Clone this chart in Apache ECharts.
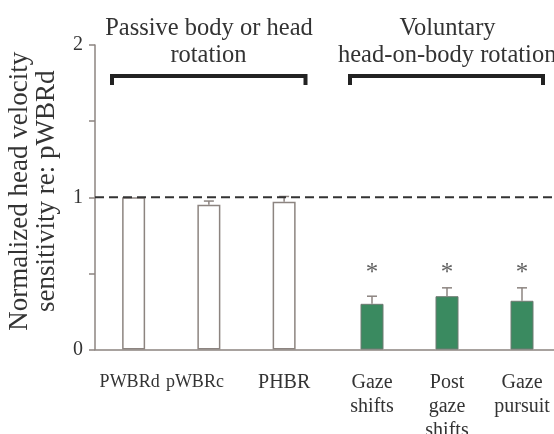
<!DOCTYPE html>
<html>
<head>
<meta charset="utf-8">
<script src="https://cdn.jsdelivr.net/npm/echarts@6/dist/echarts.min.js"></script>
<style>
  html, body { margin: 0; padding: 0; background: #fff; }
  #chart { width: 554px; height: 434px; }
</style>
</head>
<body>
<div id="chart"></div>
<script>
// Passive rotation conditions (open bars)
const passiveCats = ['PWBRd', 'pWBRc', 'PHBR'];
const passiveVals = [1.0, 0.95, 0.97];
const passiveErr = [0, 0.025, 0.035];

// Voluntary head-on-body rotation conditions (filled bars)
const voluntaryCats = ['Gaze\nshifts', 'Post\ngaze\nshifts', 'Gaze\npursuit'];
const voluntaryVals = [0.30, 0.35, 0.32];
const voluntaryErr = [0.05, 0.055, 0.085];
const voluntarySig = ['*', '*', '*'];
const sigLevel = 0.535;

// Axis
const yTicks = [0, 1, 2];
const yMin = 0, yMax = 2;
const refLevel = 1;

const SERIF = '"Liberation Serif", "Times New Roman", serif';
const TEXT = '#333';
const AXIS = '#8c8480';
const GREEN = '#3a8a60';

// the two leftmost passive labels are set tighter and sit a little left of their bars
const passiveLabelStyle = [
  { padding: [0, 8, 0, 0], fontSize: 18 },
  { padding: [0, 28, 0, 0], fontSize: 18 },
  null
];

const chart = echarts.init(document.getElementById('chart'), null, { renderer: 'canvas' });

function hiddenY(gridIndex) {
  return {
    type: 'value', gridIndex, min: yMin, max: yMax, show: false,
    splitLine: { show: false }
  };
}

function catX(gridIndex, cats, styles) {
  return {
    type: 'category', gridIndex,
    data: cats.map((c, i) => (styles && styles[i]) ? { value: c, textStyle: styles[i] } : c),
    axisLine: { show: false }, axisTick: { show: false },
    axisLabel: {
      interval: 0, margin: 21, color: TEXT,
      fontFamily: SERIF, fontSize: 20, lineHeight: 24
    }
  };
}

function errorSeries(axisIndex, vals, errs) {
  return {
    type: 'custom', xAxisIndex: axisIndex, yAxisIndex: axisIndex, z: 4,
    data: vals.map((v, i) => [i, v, v + errs[i]]),
    renderItem(params, api) {
      const x = api.value(0);
      if (api.value(2) === api.value(1)) return null;
      const lo = api.coord([x, api.value(1)]);
      const hi = api.coord([x, api.value(2)]);
      const hw = 5;
      const style = { stroke: AXIS, lineWidth: 1.5 };
      return {
        type: 'group',
        children: [
          { type: 'line', shape: { x1: lo[0], y1: lo[1], x2: hi[0], y2: hi[1] }, style },
          { type: 'line', shape: { x1: hi[0] - hw, y1: hi[1], x2: hi[0] + hw, y2: hi[1] }, style }
        ]
      };
    }
  };
}

const titleFont = '24.5px ' + SERIF;
const gridBase = { top: 45, height: 304.5, outerBoundsMode: 'none', containLabel: false };

const option = {
  backgroundColor: '#fff',
  animation: false,
  grid: [
    Object.assign({ left: 95, right: 0 }, gridBase),
    Object.assign({ left: 96, width: 225.75 }, gridBase),
    Object.assign({ left: 334.5, width: 225 }, gridBase)
  ],
  xAxis: [
    {
      type: 'value', gridIndex: 0, min: 0, max: 1,
      axisLine: { show: true, lineStyle: { color: AXIS, width: 1.5 } },
      axisTick: { show: false }, axisLabel: { show: false }, splitLine: { show: false }
    },
    catX(1, passiveCats, passiveLabelStyle),
    catX(2, voluntaryCats)
  ],
  yAxis: [
    {
      type: 'value', gridIndex: 0, min: yMin, max: yMax, interval: 0.5,
      axisLine: { show: true, lineStyle: { color: AXIS, width: 1.5 } },
      axisTick: { show: true, length: 6, lineStyle: { color: AXIS, width: 1.5 } },
      splitLine: { show: false },
      axisLabel: {
        color: TEXT, fontFamily: SERIF, fontSize: 20, margin: 12,
        formatter: v => (yTicks.includes(v) ? String(v) : '')
      },
      name: 'Normalized head velocity\nsensitivity re: pWBRd',
      nameLocation: 'middle', nameRotate: 90, nameGap: 35,
      nameTextStyle: {
        color: TEXT, fontFamily: SERIF, fontSize: 27, lineHeight: 27,
        padding: [0, 0, 0, 12]
      }
    },
    hiddenY(1),
    hiddenY(2)
  ],
  graphic: [
    { type: 'text', x: 209, y: 29, style: { text: 'Passive body or head', fill: TEXT, font: titleFont, align: 'center', verticalAlign: 'middle' } },
    { type: 'text', x: 208.5, y: 55.5, style: { text: 'rotation', fill: TEXT, font: titleFont, align: 'center', verticalAlign: 'middle' } },
    { type: 'text', x: 447.5, y: 29, style: { text: 'Voluntary', fill: TEXT, font: titleFont, align: 'center', verticalAlign: 'middle' } },
    { type: 'text', x: 338, y: 55.5, style: { text: 'head-on-body rotation', fill: TEXT, font: titleFont, align: 'left', verticalAlign: 'middle' } },
    { type: 'polyline', shape: { points: [[112, 85], [112, 76], [305.5, 76], [305.5, 85]] }, style: { stroke: '#222', lineWidth: 4, fill: null } },
    { type: 'polyline', shape: { points: [[350, 85], [350, 76], [543, 76], [543, 85]] }, style: { stroke: '#222', lineWidth: 4, fill: null } }
  ],
  series: [
    {
      // reference level of the normalisation condition
      type: 'line', xAxisIndex: 0, yAxisIndex: 0, z: 5,
      data: [[0, refLevel], [1, refLevel]],
      symbol: 'none', silent: true,
      lineStyle: { color: '#333', width: 2, type: [9, 5] }
    },
    {
      type: 'bar', xAxisIndex: 1, yAxisIndex: 1, barWidth: 23,
      data: passiveVals,
      itemStyle: { color: '#fff', borderColor: AXIS, borderWidth: 1.5 }
    },
    errorSeries(1, passiveVals, passiveErr),
    {
      type: 'bar', xAxisIndex: 2, yAxisIndex: 2, barWidth: 23,
      data: voluntaryVals,
      itemStyle: { color: GREEN, borderColor: '#6f7a72', borderWidth: 1 }
    },
    errorSeries(2, voluntaryVals, voluntaryErr),
    {
      type: 'scatter', xAxisIndex: 2, yAxisIndex: 2, symbolSize: 0, silent: true,
      data: voluntarySig.map((s, i) => [i, sigLevel, s]),
      label: {
        show: true, position: 'inside', formatter: p => p.data[2],
        color: '#3a3a3a', fontFamily: SERIF, fontSize: 25, offset: [0, 5]
      }
    }
  ]
};

chart.setOption(option);
</script>
</body>
</html>
